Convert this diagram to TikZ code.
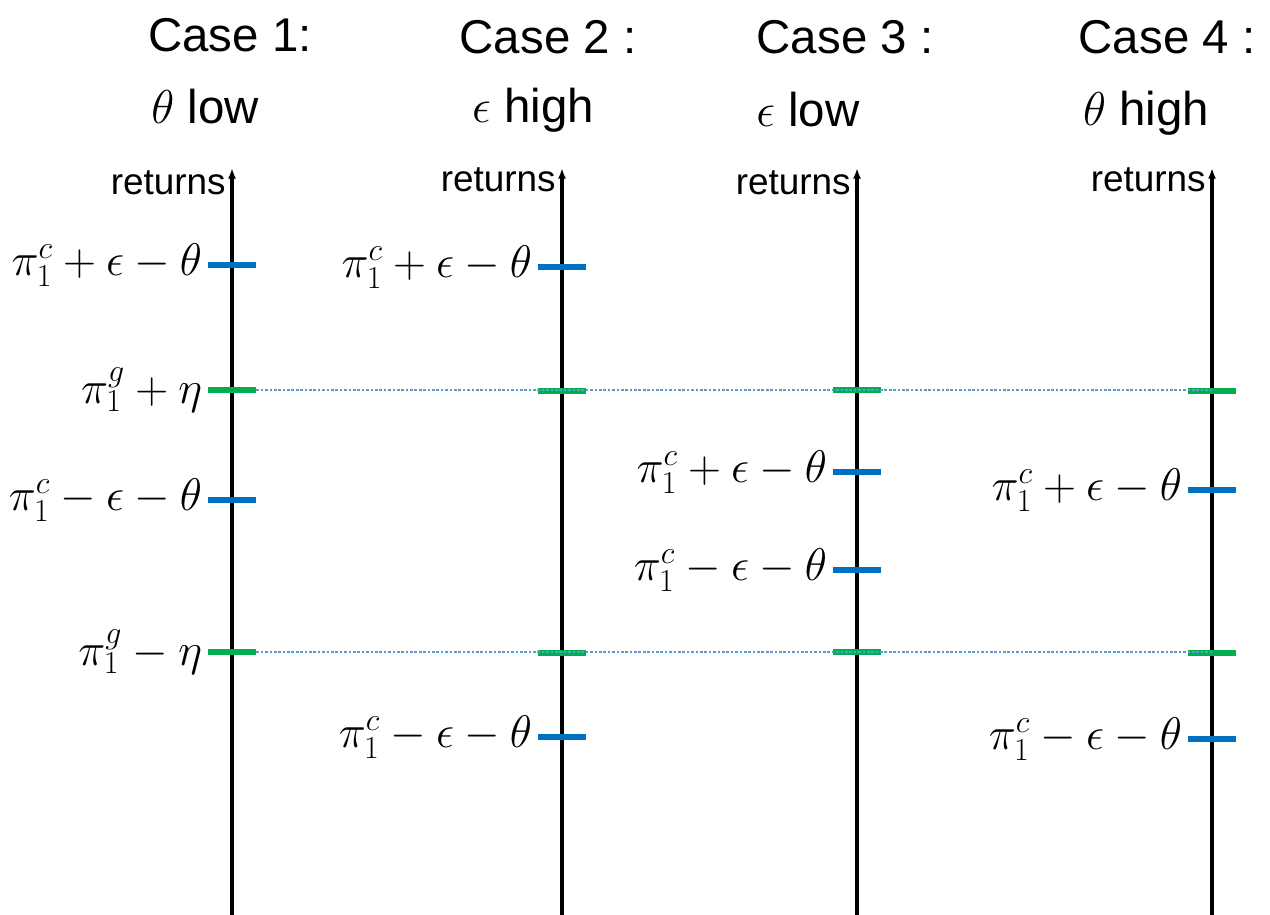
\RequirePackage{fix-cm}
\documentclass[tikz,border=0pt]{standalone}
\usepackage[no-math]{fontspec}
\setmainfont{Liberation Sans}
\usetikzlibrary{arrows.meta,positioning}
\definecolor{TickBlue}{RGB}{0,112,192}
\definecolor{TickGreen}{RGB}{0,176,80}
\definecolor{GuideBlue}{RGB}{91,155,213}
\tikzset{
  axis/.style={-{Latex[length=6pt,width=4.5pt]},line width=1.9pt,draw=black},
  ctick/.style={fill=TickBlue,inner sep=0pt,minimum width=.96cm,minimum height=.13cm},
  gtick/.style={fill=TickGreen,inner sep=0pt,minimum width=.96cm,minimum height=.13cm},
  guide/.style={draw=GuideBlue,line width=.6pt,dash pattern=on 1.5pt off 1pt},
  lbl/.style={inner sep=0pt,font=\fontsize{26}{31}\selectfont},
  head/.style={inner sep=0pt,font=\fontsize{27}{32}\selectfont},
  axname/.style={anchor=east,inner sep=0pt,font=\fontsize{21}{25}\selectfont}
}
\begin{document}
\begin{tikzpicture}[x=0.02cm,y=-0.02cm]
  \useasboundingbox (0,0) rectangle (1270,915);
  % axes
  \coordinate (a1b) at (232,915); \coordinate (a1t) at (232,168);
  \coordinate (a2b) at (562,915); \coordinate (a2t) at (562,168);
  \coordinate (a3b) at (857,915); \coordinate (a3t) at (857,168);
  \coordinate (a4b) at (1212,915); \coordinate (a4t) at (1212,168);
  \draw[axis] (a1b) -- (a1t);
  \draw[axis] (a2b) -- (a2t);
  \draw[axis] (a3b) -- (a3t);
  \draw[axis] (a4b) -- (a4t);
  \node[axname] (r1) at (226,183) {returns};
  \node[axname] (r2) at (556,180) {returns};
  \node[axname] (r3) at (851,183) {returns};
  \node[axname] (r4) at (1206,180) {returns};
  % headings
  \node[head] (h1) at (230,35) {Case 1:};
  \node[head] (s1) at (205,107) {$\theta$ low};
  \node[head] (h2) at (548,37) {Case 2 :};
  \node[head] (s2) at (533,110) {$\epsilon$ high};
  \node[head] (h3) at (845,37) {Case 3 :};
  \node[head] (s3) at (808,110) {$\epsilon$ low};
  \node[head] (h4) at (1167,37) {Case 4 :};
  \node[head] (s4) at (1146,113) {$\theta$ high};
  % ticks
  \node[ctick] (c1u) at (232,265) {};
  \node[gtick] (g1u) at (232,390) {};
  \node[ctick] (c1l) at (232,500) {};
  \node[gtick] (g1l) at (232,652) {};
  \node[ctick] (c2u) at (562,267) {};
  \node[gtick] (g2u) at (562,391) {};
  \node[gtick] (g2l) at (562,653) {};
  \node[ctick] (c2l) at (562,737) {};
  \node[gtick] (g3u) at (857,390) {};
  \node[ctick] (c3u) at (857,472) {};
  \node[ctick] (c3l) at (857,570) {};
  \node[gtick] (g3l) at (857,652) {};
  \node[gtick] (g4u) at (1212,391) {};
  \node[ctick] (c4u) at (1212,490) {};
  \node[gtick] (g4l) at (1212,653) {};
  \node[ctick] (c4l) at (1212,739) {};
  % dotted guides
  \draw[guide] (g1u.east) -- (g1u.east -| a4t);
  \draw[guide] (g1l.east) -- (g1l.east -| a4t);
  % labels
  \node[lbl,left=3pt of c1u] (l1a) {$\pi_1^c+\epsilon-\theta$};
  \node[lbl,left=3pt of g1u] (l1b) {$\pi_1^g+\eta$};
  \node[lbl,left=3pt of c1l] (l1c) {$\pi_1^c-\epsilon-\theta$};
  \node[lbl,left=3pt of g1l] (l1d) {$\pi_1^g-\eta$};
  \node[lbl,left=3pt of c2u] (l2a) {$\pi_1^c+\epsilon-\theta$};
  \node[lbl,left=3pt of c2l] (l2b) {$\pi_1^c-\epsilon-\theta$};
  \node[lbl,left=3pt of c3u] (l3a) {$\pi_1^c+\epsilon-\theta$};
  \node[lbl,left=3pt of c3l] (l3b) {$\pi_1^c-\epsilon-\theta$};
  \node[lbl,left=3pt of c4u] (l4a) {$\pi_1^c+\epsilon-\theta$};
  \node[lbl,left=3pt of c4l] (l4b) {$\pi_1^c-\epsilon-\theta$};
\end{tikzpicture}
\end{document}
